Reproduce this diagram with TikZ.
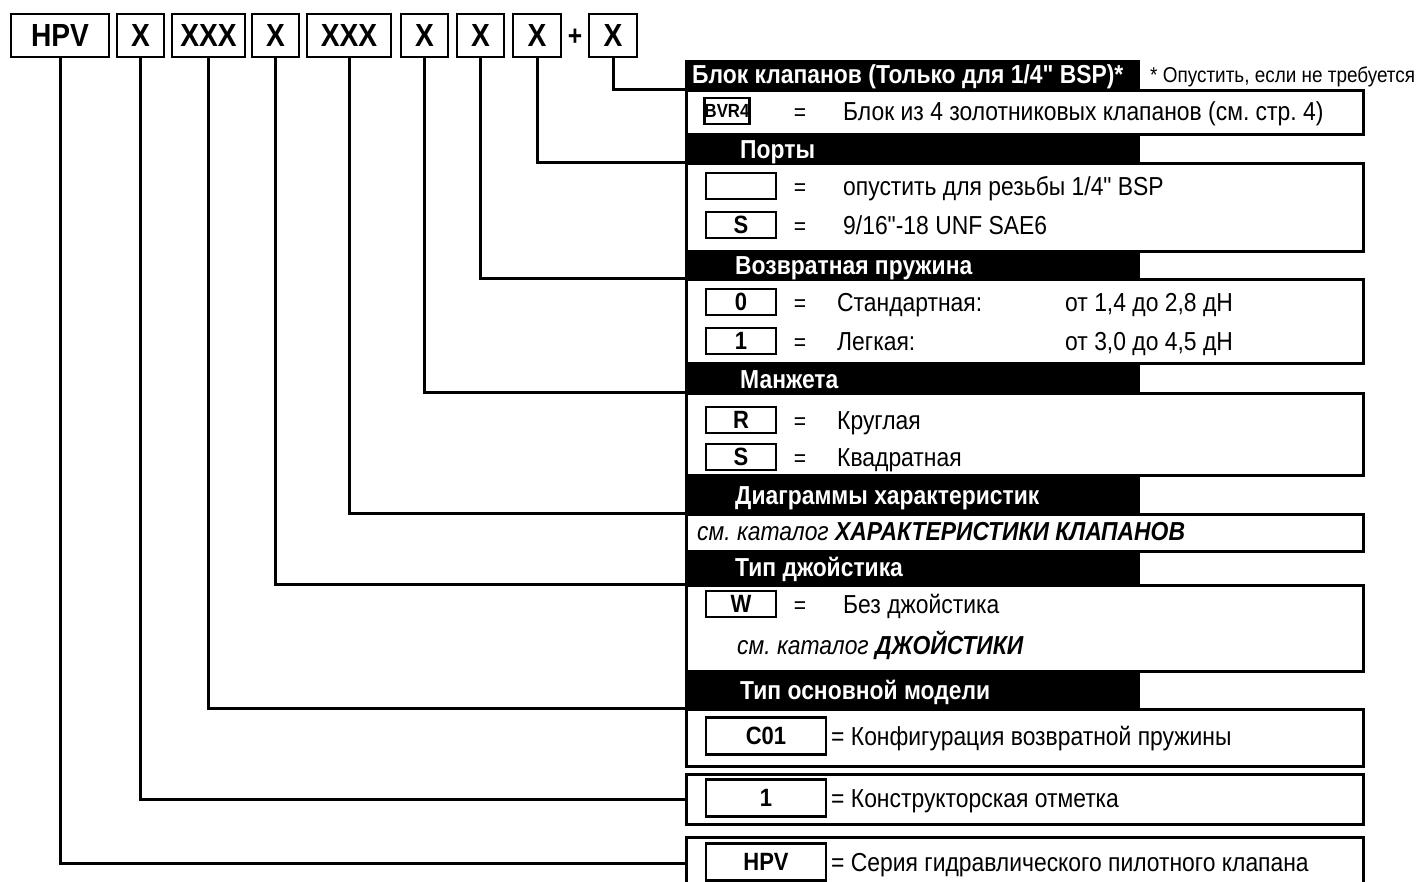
\documentclass[tikz,border=0pt]{standalone}
\usepackage{fontspec}
\setmainfont{Liberation Sans}[FakeStretch=0.88, Ligatures=TeXOff]
\newcommand{\fs}[1]{\fontsize{#1}{#1}\selectfont}
\frenchspacing
\begin{document}
\begin{tikzpicture}[x=1pt, y=-1pt,
    code/.style={draw, line width=2.5pt, minimum height=43pt, inner sep=0pt, font=\bfseries\fs{32}},
    head/.style={fill=black, anchor=south west, minimum width=455pt, inner sep=0pt},
    headtxt/.style={text=white, anchor=base west, yshift=-9pt, inner sep=0pt, font=\bfseries\fs{26}},
    panel/.style={draw, line width=3pt, anchor=north west, minimum width=677pt, inner sep=0pt},
    key/.style={draw, line width=2.5pt, minimum width=70pt, minimum height=26pt, inner sep=0pt, font=\bfseries\fs{25}},
    bigkey/.style={key, minimum width=120pt, minimum height=37pt},
    eq/.style={anchor=base, yshift=-9pt, inner sep=0pt, font=\fs{24}},
    txt/.style={anchor=base west, yshift=-9pt, inner sep=0pt, font=\fs{26}},
    link/.style={line width=3pt}]
    \useasboundingbox (0, 0) rectangle (1420, 881);

    % Code
    \foreach \n/\cx/\w/\t in {c1/60/98/HPV, c2/140.5/47/X, c3/208.5/73/XXX, c4/275.5/47/X, c5/349/84/XXX,
        c6/424.5/47/X, c7/480.5/47/X, c8/537/48/X, c9/613/48/X} {
        \node[code, minimum width=\w pt] (\n) at (\cx, 35.5) {\t};
    }
    \node[inner sep=0pt, font=\bfseries\fs{28}] (plus) at (575, 37) {+};

    % Panels
    \node[panel, minimum height=44pt] (p1) at (685, 89) {};
    \node[panel, minimum height=88pt] (p2) at (685, 162) {};
    \node[panel, minimum height=84pt] (p3) at (685, 278) {};
    \node[panel, minimum height=82pt] (p4) at (685, 392) {};
    \node[panel, minimum height=37pt] (p5) at (685, 513) {};
    \node[panel, minimum height=86pt] (p6) at (685, 584) {};
    \node[panel, minimum height=57pt] (p7) at (685, 708) {};
    \node[panel, minimum height=50pt] (p8) at (685, 773) {};
    \node[panel, minimum height=52pt] (p9) at (685, 836) {};

    % Headers
    \node[head, minimum height=29pt] (h1) at (685, 89) {};
    \node[head, minimum height=27pt] (h2) at (685, 162) {};
    \node[head, minimum height=26pt] (h3) at (685, 278) {};
    \node[head, minimum height=28pt] (h4) at (685, 392) {};
    \node[head, minimum height=36pt] (h5) at (685, 513) {};
    \node[head, minimum height=32pt] (h6) at (685, 584) {};
    \node[head, minimum height=36pt] (h7) at (685, 708) {};
    \node[headtxt] (h1t) at (692, 74) {Блок клапанов (Только для 1/4" BSP)*};
    \node[headtxt] (h2t) at (740, 149) {Порты};
    \node[headtxt] (h3t) at (735, 265) {Возвратная пружина};
    \node[headtxt] (h4t) at (740, 379) {Манжета};
    \node[headtxt] (h5t) at (735, 495) {Диаграммы характеристик};
    \node[headtxt] (h6t) at (735, 567) {Тип джойстика};
    \node[headtxt] (h7t) at (740, 690) {Тип основной модели};
    \node[txt, font=\fs{21.5}, yshift=1pt] (note) at (1150, 74) {* Опустить, если не требуется};

    % Links
    \draw[link] (c9.south) |- (h1.south west);
    \draw[link] (c8.south) |- (h2.south west);
    \draw[link] (c7.south) |- (h3.south west);
    \draw[link] (c6.south) |- (h4.south west);
    \draw[link] (c5.south) |- (h5.south west);
    \draw[link] (c4.south) |- (h6.south west);
    \draw[link] (c3.south) |- (h7.south west);
    \draw[link] (c2.south) |- (p8.west);
    \draw[link] (c1.south) |- (p9.west);

    % Rows
    %% valve block
    \node[key, minimum width=44pt, font=\bfseries\fs{19}] (kBVR) at (727, 111) {BVR4};
    \node[eq] (eBVR) at (800, 111) {=};
    \node[txt] (dBVR) at (843, 111) {Блок из 4 золотниковых клапанов (см. стр. 4)};
    %% ports
    \node[key] (kP0) at (741, 186) {};
    \node[eq] (eP0) at (800, 186) {=};
    \node[txt] (dP0) at (843, 186) {опустить для резьбы 1/4" BSP};
    \node[key] (kP1) at (741, 225) {S};
    \node[eq] (eP1) at (800, 225) {=};
    \node[txt] (dP1) at (843, 225) {9/16"-18 UNF SAE6};
    %% spring
    \node[key] (kS0) at (741, 302) {0};
    \node[eq] (eS0) at (800, 302) {=};
    \node[txt] (dS0) at (837, 302) {Стандартная:};
    \node[txt] (vS0) at (1065, 302) {от 1,4 до 2,8 дН};
    \node[key] (kS1) at (741, 341) {1};
    \node[eq] (eS1) at (800, 341) {=};
    \node[txt] (dS1) at (837, 341) {Легкая:};
    \node[txt] (vS1) at (1065, 341) {от 3,0 до 4,5 дН};
    %% boot
    \node[key] (kB0) at (741, 420) {R};
    \node[eq] (eB0) at (800, 420) {=};
    \node[txt] (dB0) at (837, 420) {Круглая};
    \node[key] (kB1) at (741, 457) {S};
    \node[eq] (eB1) at (800, 457) {=};
    \node[txt] (dB1) at (837, 457) {Квадратная};
    %% curves
    \node[txt] (dC) at (697, 531) {\itshape см. каталог \textbf{ХАРАКТЕРИСТИКИ КЛАПАНОВ}};
    %% joystick
    \node[key] (kW) at (741, 604) {W};
    \node[eq] (eW) at (800, 604) {=};
    \node[txt] (dW) at (843, 604) {Без джойстика};
    \node[txt] (dJ) at (737, 645) {\itshape см. каталог \textbf{ДЖОЙСТИКИ}};
    %% model, design, series
    \node[bigkey] (kM) at (766, 736) {C01};
    \node[txt] (dM) at (831, 736) {= Конфигурация возвратной пружины};
    \node[bigkey] (kD) at (766, 798) {1};
    \node[txt] (dD) at (831, 798) {= Конструкторская отметка};
    \node[bigkey] (kH) at (766, 862) {HPV};
    \node[txt] (dH) at (831, 862) {= Серия гидравлического пилотного клапана};
\end{tikzpicture}
\end{document}
